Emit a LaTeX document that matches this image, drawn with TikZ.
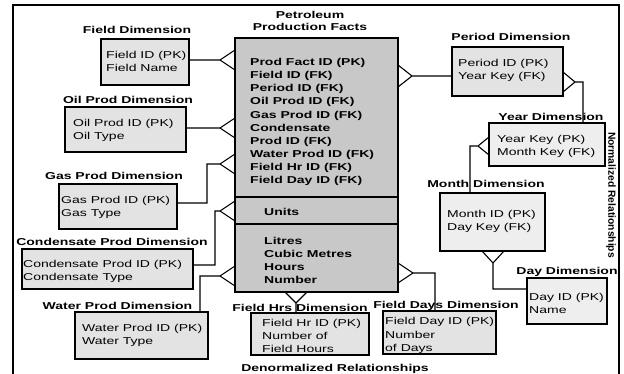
\documentclass[tikz,border=0pt]{standalone}
\usepackage{fontspec}
\setmainfont[FakeStretch=1.4]{Liberation Sans}
\newfontfamily\plainsans{Liberation Sans}
\definecolor{factgray}{HTML}{C8C8C8}
\definecolor{dimgray}{HTML}{E3E3E3}
\definecolor{normgray}{HTML}{EEEEEE}
\begin{document}
\begin{tikzpicture}[x=1pt,y=-1pt,
  box/.style={draw, line width=1.3pt, inner sep=0, fill=dimgray},
  nbox/.style={box, fill=normgray},
  fbox/.style={box, fill=factgray},
  txt/.style={font=\fontsize{10}{13.1}\selectfont, align=left, inner sep=0, anchor=west},
  btxt/.style={txt, font=\bfseries\fontsize{10}{13.1}\selectfont},
  ttl/.style={font=\bfseries\fontsize{10}{12}\selectfont, align=center, inner sep=0},
  conn/.style={line width=1.1pt}]
\useasboundingbox (0,0) rectangle (624,374);
\draw[line width=2pt] (13,390) -- (13,5) -- (619,5) -- (619,390);

% fact table
\node[fbox, minimum width=163pt, minimum height=159pt] (factA) at (316.5,117.5) {};
\node[fbox, minimum width=163pt, minimum height=27pt] (factB) at (316.5,210.5) {};
\node[fbox, minimum width=163pt, minimum height=68pt] (factC) at (316.5,258) {};

% dimension boxes
\node[box, minimum width=88pt, minimum height=46pt] (field) at (145,62) {};
\node[box, minimum width=121pt, minimum height=45pt] (oil) at (125.5,129.5) {};
\node[box, minimum width=118pt, minimum height=45pt] (gas) at (118,206.5) {};
\node[box, minimum width=171pt, minimum height=40pt] (cond) at (107.5,269) {};
\node[box, minimum width=133pt, minimum height=47pt] (water) at (141.5,335.5) {};
\node[box, minimum width=118pt, minimum height=42pt] (hrs) at (310,334) {};
\node[box, minimum width=113pt, minimum height=43pt] (days) at (439.5,332.5) {};
\node[box, minimum width=111pt, minimum height=49pt] (period) at (507.5,71.5) {};
\node[nbox, minimum width=116pt, minimum height=43pt] (year) at (547,144.5) {};
\node[nbox, minimum width=105pt, minimum height=58pt] (month) at (492.5,222) {};
\node[nbox, minimum width=80pt, minimum height=46pt] (day) at (567,301) {};

% connectors with crow's feet
\coordinate (fF) at (220,60);
\draw[conn] (field.east |- fF) -- (fF) -- ++(15,-10) (fF) -- ++(15,10);
\coordinate (oF) at (220,128);
\draw[conn] (oil.east |- oF) -- (oF) -- ++(15,-10) (oF) -- ++(15,10);
\coordinate (gF) at (220,164);
\coordinate (gB) at (207,203);
\draw[conn] (gas.east |- gB) -- (gB) |- (gF) -- ++(15,-10) (gF) -- ++(15,10);
\coordinate (cF) at (220,211);
\coordinate (cB) at (215,265);
\draw[conn] (cond.east |- cB) -- (cB) |- (cF) -- ++(15,-10) (cF) -- ++(15,10);
\coordinate (wF) at (220,276);
\coordinate (wB) at (200,276);
\draw[conn] (water.north -| wB) -- (wB) -- (wF) -- ++(15,-10) (wF) -- ++(15,10);
\coordinate (hF) at (296,303);
\draw[conn] (hrs.north -| hF) -- (hF) -- ++(-11,-11) (hF) -- ++(11,-11);
\coordinate (dF) at (413,273);
\coordinate (dB) at (435,273);
\draw[conn] (days.north -| dB) -- (dB) -- (dF) -- ++(-15,-10) (dF) -- ++(-15,10);
\coordinate (pF) at (412,76);
\draw[conn] (period.west |- pF) -- (pF) -- ++(-14,-11) (pF) -- ++(-14,11);
\coordinate (pyF) at (575,82);
\coordinate (pyB) at (583,82);
\draw[conn] (year.north -| pyB) -- (pyB) -- (pyF) -- ++(-12,-10) (pyF) -- ++(-12,10);
\coordinate (ymF) at (478,146);
\coordinate (ymB) at (470,146);
\draw[conn] (month.north -| ymB) -- (ymB) -- (ymF) -- ++(11,-9) (ymF) -- ++(11,9);
\coordinate (mdF) at (493,263);
\coordinate (mdB) at (493,289);
\draw[conn] (day.west |- mdB) -- (mdB) -- (mdF) -- ++(-11,-12) (mdF) -- ++(11,-12);

% titles
\node[ttl] (factT) at (310,21) {Petroleum\\Production Facts};
\node[ttl] (fieldT) at (137,30) {Field Dimension};
\node[ttl] (oilT) at (128,100) {Oil Prod Dimension};
\node[ttl] (gasT) at (114,176) {Gas Prod Dimension};
\node[ttl] (condT) at (112,242) {Condensate Prod Dimension};
\node[ttl] (waterT) at (117.5,306) {Water Prod Dimension};
\node[ttl] (hrsT) at (300,308) {Field Hrs Dimension};
\node[ttl] (daysT) at (446,306) {Field Days Dimension};
\node[ttl] (periodT) at (511,37) {Period Dimension};
\node[ttl] (yearT) at (551,117) {Year Dimension};
\node[ttl] (monthT) at (486,184) {Month Dimension};
\node[ttl] (dayT) at (567,272) {Day Dimension};
\node[ttl] (denT) at (335,369) {Denormalized Relationships};
\node[ttl, font=\plainsans\bfseries\fontsize{10.3}{12}\selectfont, rotate=-90] (norT) at (611,195) {Normalized Relationships};

% box texts
\node[btxt] (factAt) at (250,122) {Prod Fact ID (PK)\\Field ID (FK)\\Period ID (FK)\\Oil Prod ID (FK)\\Gas Prod ID (FK)\\Condensate\\Prod ID (FK)\\Water Prod ID (FK)\\Field Hr ID (FK)\\Field Day ID (FK)};
\node[btxt] (factBt) at (264,212) {Units};
\node[btxt] (factCt) at (264,260.5) {Litres\\Cubic Metres\\Hours\\Number};
\node[txt] (fieldt) at (106,61.5) {Field ID (PK)\\Field Name};
\node[txt] (oilt) at (73,130.5) {Oil Prod ID (PK)\\Oil Type};
\node[txt] (gast) at (61,207.5) {Gas Prod ID (PK)\\Gas Type};
\node[txt] (condt) at (23,271) {Condensate Prod ID (PK)\\Condensate Type};
\node[txt] (watert) at (82,335.5) {Water Prod ID (PK)\\Water Type};
\node[txt] (hrst) at (262,336) {Field Hr ID (PK)\\Number of\\Field Hours};
\node[txt] (dayst) at (385,335.5) {Field Day ID (PK)\\Number\\of Days};
\node[txt] (periodt) at (458,70) {Period ID (PK)\\Year Key (FK)};
\node[txt] (yeart) at (497,146) {Year Key (PK)\\Month Key (FK)};
\node[txt] (montht) at (447,221) {Month ID (PK)\\Day Key (FK)};
\node[txt] (dayt) at (529,303) {Day ID (PK)\\Name};
\end{tikzpicture}
\end{document}
